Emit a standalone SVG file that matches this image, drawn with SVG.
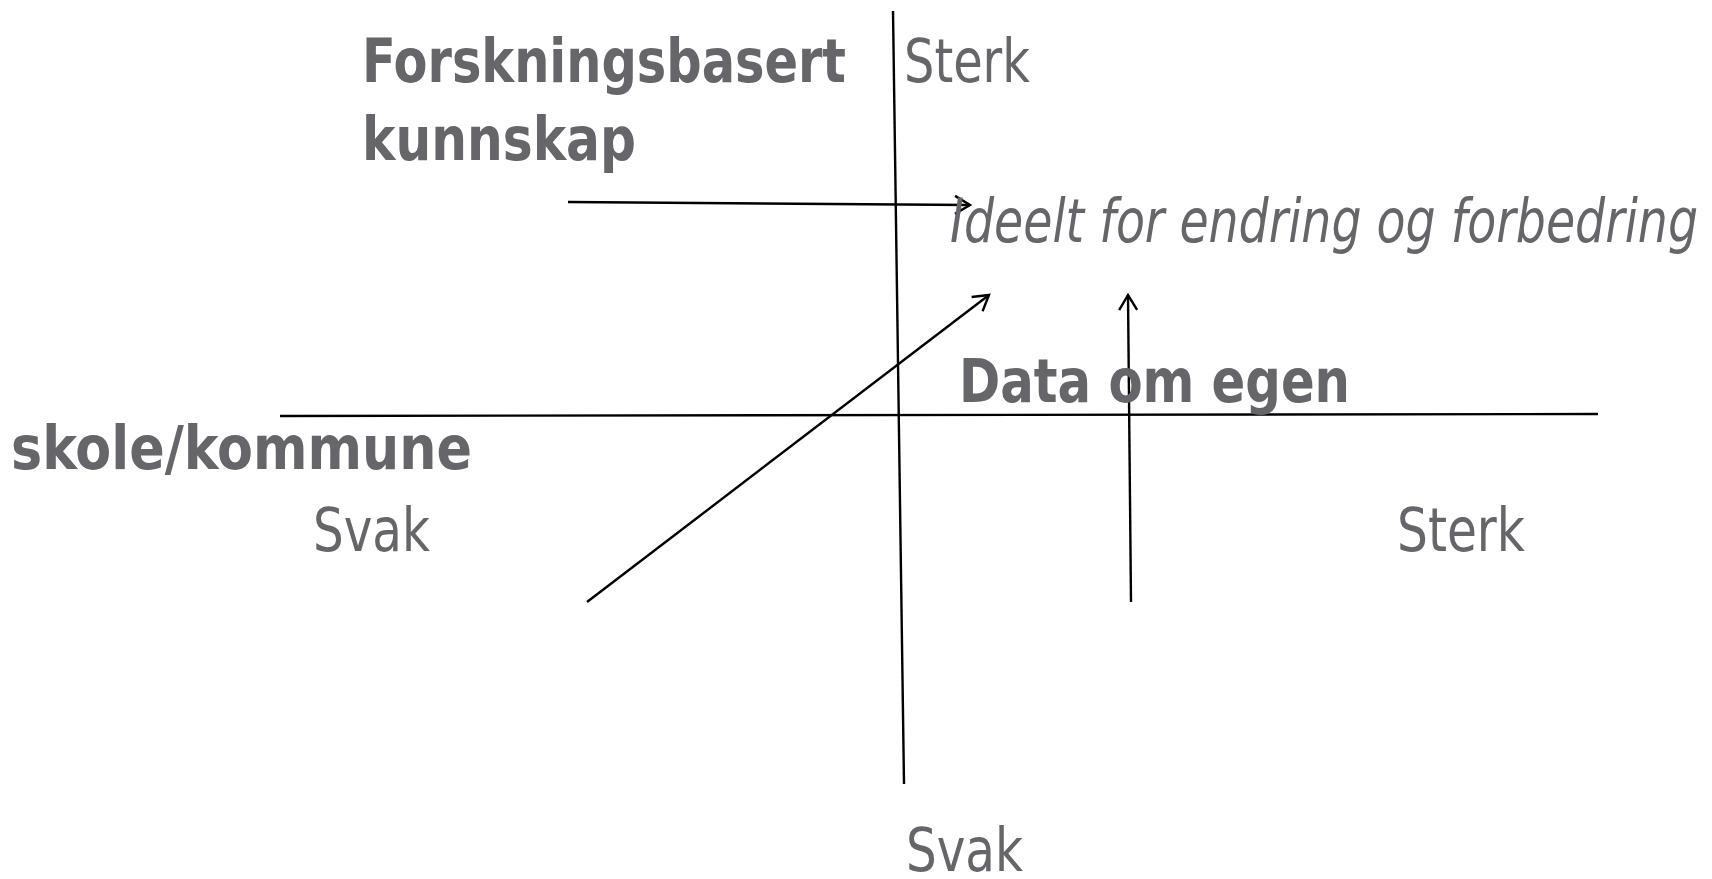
<svg xmlns="http://www.w3.org/2000/svg" width="1712" height="879" viewBox="0 0 1712 879">
<style>
.t{fill:#65656a;font-family:"DejaVu Sans","Liberation Sans",sans-serif;font-size:60px;font-stretch:condensed}
.b{font-weight:bold}
.i{font-style:italic}
.ln{stroke:#000;stroke-width:2.4;fill:none}
</style>
<defs>
<marker id="ah" markerWidth="22" markerHeight="22" refX="17" refY="11" orient="auto" markerUnits="userSpaceOnUse">
<path d="M2,2 L17,11 L2,20" fill="none" stroke="#000" stroke-width="2.4"/>
</marker>
</defs>
<rect width="1712" height="879" fill="#fff"/>
<g id="axes">
<line class="ln" x1="893" y1="11" x2="904" y2="784"/>
<line class="ln" x1="280" y1="416" x2="1598" y2="414"/>
</g>
<g id="connectors">
<line class="ln" x1="568" y1="202" x2="970" y2="205" marker-end="url(#ah)"/>
<line class="ln" x1="587" y1="602" x2="989" y2="295" marker-end="url(#ah)"/>
<line class="ln" x1="1131" y1="602" x2="1128" y2="295" marker-end="url(#ah)"/>
</g>
<g id="forskning"><text class="t b" x="362" y="82" textLength="484" lengthAdjust="spacingAndGlyphs">Forskningsbasert</text>
<text class="t b" x="362" y="160" textLength="274" lengthAdjust="spacingAndGlyphs">kunnskap</text></g>
<g id="sterk-top"><text class="t" x="904" y="82" textLength="126" lengthAdjust="spacingAndGlyphs">Sterk</text></g>
<g id="ideelt"><text class="t i" x="950" y="242" textLength="748" lengthAdjust="spacingAndGlyphs">Ideelt for endring og forbedring</text></g>
<g id="data"><text class="t b" x="959" y="402" textLength="391" lengthAdjust="spacingAndGlyphs">Data om egen</text>
<text class="t b" x="11" y="469" textLength="461" lengthAdjust="spacingAndGlyphs">skole/kommune</text></g>
<g id="svak-left"><text class="t" x="313" y="551" textLength="117" lengthAdjust="spacingAndGlyphs">Svak</text></g>
<g id="sterk-right"><text class="t" x="1397" y="551" textLength="128" lengthAdjust="spacingAndGlyphs">Sterk</text></g>
<g id="svak-bottom"><text class="t" x="906" y="871" textLength="117" lengthAdjust="spacingAndGlyphs">Svak</text></g>
</svg>
